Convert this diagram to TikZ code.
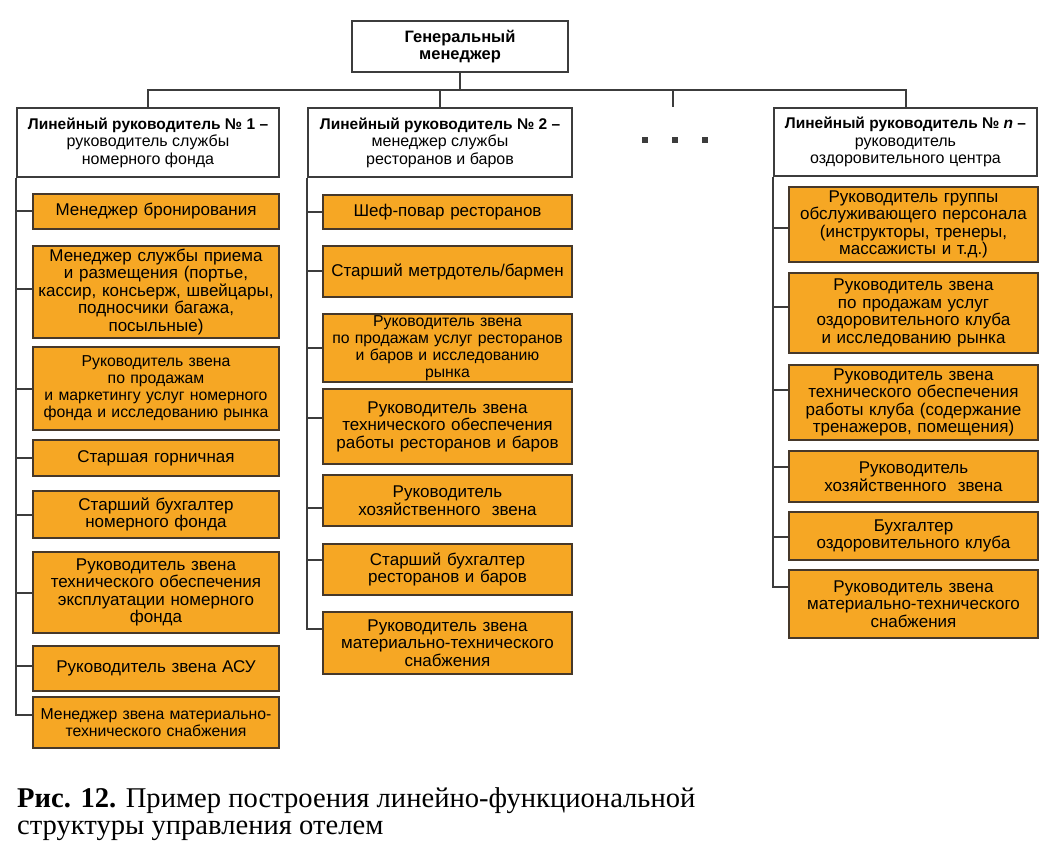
\documentclass[tikz,border=0pt]{standalone}
\usepackage{fontspec}
\setmainfont{Liberation Serif}
\setsansfont{Liberation Sans}
\definecolor{boxorange}{RGB}{246,167,36}
\definecolor{boxedge}{RGB}{70,56,42}
\definecolor{linegray}{RGB}{60,60,60}

\begin{document}
\begin{tikzpicture}[x=1pt,y=-1pt,
	link/.style={draw=linegray,line width=2pt},
	boss/.style={draw=linegray,line width=2pt,fill=white,align=center,inner sep=0pt,font=\sffamily\bfseries\fontsize{16.5}{17.5}\selectfont},
	head/.style={draw=linegray,line width=2pt,fill=white,align=center,inner sep=0pt,font=\sffamily\fontsize{16}{17.5}\selectfont},
	unit/.style={draw=boxedge,line width=1.7pt,fill=boxorange,align=center,inner xsep=2pt,inner ysep=0pt,font=\sffamily\fontsize{17}{17.5}\selectfont},
	unitA/.style={unit,text width=242pt},
	unitB/.style={unit,text width=245pt},
	small/.style={font=\sffamily\fontsize{15.8}{17}\selectfont}]
					%\draw[help lines] (0,0) grid[step=50] (1049,842);
					\useasboundingbox (0,0) rectangle (1049,842);
					
					%TOP
					\node[boss,minimum width=216,minimum height=51] (gm) at (460,46.5) {Генеральный\\менеджер};
					\coordinate (bus) at (460,90);
					\coordinate (more) at (673,107);
					
					%LINE MANAGERS
					\node[head,minimum width=262,minimum height=69] (h1) at (148,142.5) {{\fontsize{15.5}{17.5}\selectfont\bfseries Линейный руководитель №~1 –}\\руководитель службы\\номерного фонда};
					\node[head,minimum width=264,minimum height=69] (h2) at (440,142.5) {{\fontsize{15.5}{17.5}\selectfont\bfseries Линейный руководитель №~2 –}\\менеджер службы\\ресторанов и баров};
					\node[head,minimum width=263,minimum height=68] (hn) at (905.5,142) {{\fontsize{15.5}{17.5}\selectfont\bfseries Линейный руководитель №~\textit{n} –}\\руководитель\\оздоровительного центра};
					
					\draw[link] (h1.north) |- (bus) -| (hn.north);
					\draw[link] (gm.south) -- (bus);
					\draw[link] (h2.north) -- (h2.north |- bus);
					\draw[link] (more) -- (more |- bus);
					
					%DOTS
					\fill[linegray] (642,137) rectangle +(6,6);
					\fill[linegray] (672,137) rectangle +(6,6);
					\fill[linegray] (702,137) rectangle +(6,6);
					
					%COLUMN 1
					\node[unitA,minimum height=35] (a1) at (156,211.5) {Менеджер бронирования};
					\node[unitA,minimum height=92] (a2) at (156,292) {Менеджер службы приема\\и размещения (портье,\\кассир, консьерж, швейцары,\\подносчики багажа,\\посыльные)};
					\node[unitA,small,minimum height=83] (a3) at (156,388.5) {Руководитель звена\\по продажам\\и маркетингу услуг номерного\\фонда и исследованию рынка};
					\node[unitA,minimum height=36] (a4) at (156,458) {Старшая горничная};
					\node[unitA,minimum height=47] (a5) at (156,514.5) {Старший бухгалтер\\номерного фонда};
					\node[unitA,minimum height=81] (a6) at (156,592.5) {Руководитель звена\\технического обеспечения\\эксплуатации номерного\\фонда};
					\node[unitA,minimum height=45] (a7) at (156,668.5) {Руководитель звена АСУ};
					\node[unitA,small,minimum height=51] (a8) at (156,722.5) {Менеджер звена материально-\\технического снабжения};
					
					\foreach \b/\dy in {a1/0,a2/3,a3/0,a4/0,a5/0,a6/0,a7/3,a8/7.5}
						\draw[link] ([yshift=\dy]\b.west) -| (h1.south west);
					
					%COLUMN 2
					\node[unitB,minimum height=34] (b1) at (447.5,212) {Шеф-повар ресторанов};
					\node[unitB,minimum height=51] (b2) at (447.5,271.5) {Старший метрдотель/бармен};
					\node[unitB,small,minimum height=68] (b3) at (447.5,348) {Руководитель звена\\по продажам услуг ресторанов\\и баров и исследованию\\рынка};
					\node[unitB,minimum height=75] (b4) at (447.5,426.5) {Руководитель звена\\технического обеспечения\\работы ресторанов и баров};
					\node[unitB,minimum height=51] (b5) at (447.5,500.5) {Руководитель\\хозяйственного\ \ звена};
					\node[unitB,minimum height=51] (b6) at (447.5,569.5) {Старший бухгалтер\\ресторанов и баров};
					\node[unitB,minimum height=62] (b7) at (447.5,643) {Руководитель звена\\материально-технического\\снабжения};
					
					\foreach \b/\dy in {b1/0,b2/0,b3/0,b4/9,b5/-7,b6/9.5,b7/14}
						\draw[link] ([yshift=\dy]\b.west) -| (h2.south west);
					
					%COLUMN N
					\node[unitB,minimum height=75] (c1) at (913.5,224.5) {Руководитель группы\\обслуживающего персонала\\(инструкторы, тренеры,\\массажисты и т.д.)};
					\node[unitB,minimum height=80] (c2) at (913.5,313) {Руководитель звена\\по продажам услуг\\оздоровительного клуба\\и исследованию рынка};
					\node[unitB,minimum height=75] (c3) at (913.5,402.5) {Руководитель звена\\технического обеспечения\\работы клуба (содержание\\тренажеров, помещения)};
					\node[unitB,minimum height=51] (c4) at (913.5,476.5) {Руководитель\\хозяйственного\ \ звена};
					\node[unitB,minimum height=48] (c5) at (913.5,536) {Бухгалтер\\оздоровительного клуба};
					\node[unitB,minimum height=68] (c6) at (913.5,604) {Руководитель звена\\материально-технического\\снабжения};
					
					\foreach \b/\dy in {c1/-3.5,c2/6,c3/12.5,c4/9.5,c5/-1,c6/17}
						\draw[link] ([yshift=\dy]\b.west) -| (hn.south west);
					
					%CAPTION
					\node[anchor=north west,align=left,inner sep=0pt,font=\fontsize{28.6}{27}\selectfont] (cap) at (17,787) {\textbf{Рис. 12.} Пример построения линейно-функциональной\\структуры управления отелем};
					
				  \end{tikzpicture}
\end{document}
